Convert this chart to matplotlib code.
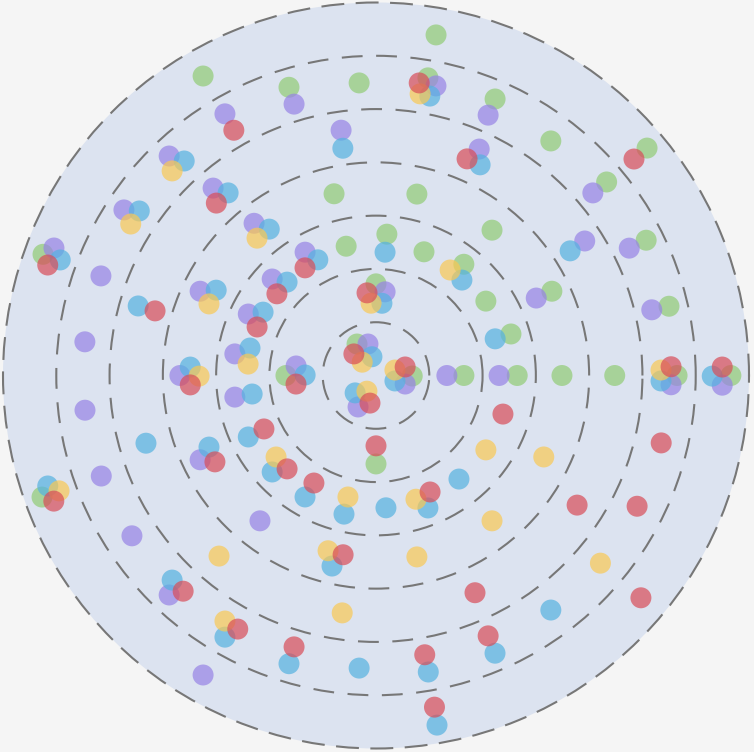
import numpy as np
import matplotlib
matplotlib.use("Agg")
import matplotlib.pyplot as plt

# ---- data: angle (degrees), radius (axis units 0..7) per series ----
green_angle = [80.0, 120.0, 106.8, 93.3, 80.1, 66.7, 53.3, 40.0, 40.0, 103.0, 77.3, 51.4,
               26.6, 103.0, 85.6, 68.8, 51.7, 34.1, 25.6, 13.3, 17.1, 90.0, 121.1, 359.2,
               180.0, 0.0, 0.0, 0.0, 0.0, 0.0, 0.0, 270.0, 160.0, 200.0]
green_radius = [6.49, 6.49, 5.65, 5.50, 5.67, 5.65, 5.49, 6.64, 5.65, 3.50, 3.49, 3.49,
                5.67, 2.49, 2.66, 2.49, 2.66, 2.49, 3.66, 5.65, 2.65, 1.72, 0.69, 0.68,
                1.69, 1.65, 2.65, 3.49, 4.48, 5.65, 6.66, 1.66, 6.65, 6.67]

purple_angle = [120.0, 133.3, 131.0, 146.7, 128.7, 158.4, 106.8, 98.1, 78.3, 66.7, 65.5, 40.1,
                32.8, 26.7, 119.9, 137.1, 154.4, 154.3, 171.3, 83.8, 104.3, 343.7, 240.3, 173.2,
                0.0, 0.0, 25.8, 13.4, 358.2, 358.4, 160.1, 173.4, 180.0, 186.8, 188.7, 205.6,
                200.1, 213.3, 231.4, 226.7, 240.0]
purple_radius = [5.67, 5.66, 4.66, 5.66, 3.66, 6.50, 5.32, 4.65, 5.55, 5.32, 4.67, 5.32,
                 4.66, 5.32, 2.67, 2.66, 3.66, 2.66, 2.68, 1.58, 0.61, 0.57, 0.68, 1.51,
                 1.33, 2.31, 3.34, 5.32, 5.54, 6.50, 5.49, 5.50, 3.68, 5.50, 2.68, 3.66,
                 5.49, 5.48, 3.49, 5.66, 6.49]

blue_angle = [131.8, 129.0, 145.2, 126.1, 159.9, 98.3, 79.1, 63.7, 32.7, 116.7, 85.8, 133.6,
              151.9, 150.7, 167.7, 85.3, 48.0, 17.1, 102.2, 343.9, 219.8, 179.6, 358.9, 359.9,
              163.7, 177.4, 188.5, 196.4, 205.7, 203.2, 222.9, 239.7, 257.0, 274.3, 291.4, 308.7,
              198.6, 225.1, 240.0, 257.0, 253.2, 266.7, 280.0, 293.2, 279.9, 306.7]
blue_radius = [5.40, 4.41, 5.41, 3.40, 6.31, 4.31, 5.34, 4.41, 4.33, 2.43, 2.32, 2.42,
               3.40, 2.43, 2.42, 1.36, 2.41, 2.34, 0.36, 0.37, 0.51, 1.33, 5.35, 6.31,
               4.65, 3.49, 2.35, 4.50, 2.66, 3.41, 2.66, 2.64, 2.67, 2.49, 2.67, 2.49,
               6.50, 5.42, 5.67, 3.67, 5.65, 5.50, 5.65, 5.67, 6.66, 5.49]

yellow_angle = [134.9, 148.3, 130.9, 81.1, 54.9, 156.8, 174.9, 93.9, 136.0, 16.1, 239.9, 180.2,
                1.1, 219.2, 257.0, 287.9, 325.9, 334.1, 308.6, 200.0, 229.0, 254.7, 282.7, 261.9,
                238.4, 320.1]
yellow_radius = [5.42, 5.41, 3.41, 5.35, 2.42, 3.41, 2.41, 1.36, 0.36, 0.37, 0.34, 3.32,
                 5.35, 2.42, 2.34, 2.44, 2.49, 3.50, 3.49, 6.33, 4.49, 3.41, 3.49, 4.50,
                 5.41, 5.49]

red_angle = [120.1, 132.8, 161.4, 81.6, 67.2, 40.0, 123.4, 140.5, 157.8, 163.7, 96.2, 135.7,
             16.3, 257.7, 186.1, 182.9, 1.7, 1.4, 343.1, 205.5, 208.2, 226.4, 270.0, 240.0,
             294.9, 201.3, 228.2, 241.4, 259.6, 294.5, 253.2, 279.9, 293.3, 280.0, 327.2, 333.4,
             320.0, 346.7]
red_radius = [5.32, 4.41, 6.50, 5.55, 4.41, 6.32, 2.42, 2.41, 2.41, 4.32, 1.56, 0.58,
              0.57, 0.53, 1.51, 3.49, 5.54, 6.50, 2.49, 2.33, 3.43, 2.42, 1.32, 2.33,
              2.41, 6.49, 5.43, 5.42, 3.42, 4.48, 5.32, 5.32, 5.32, 6.32, 4.49, 5.48,
              6.49, 5.50]

series = [
    ("green", green_angle, green_radius, "#91cc75"),
    ("purple", purple_angle, purple_radius, "#9783e5"),
    ("blue", blue_angle, blue_radius, "#55b2e0"),
    ("yellow", yellow_angle, yellow_radius, "#f9c853"),
    ("red", red_angle, red_radius, "#d84d58"),
]

W, H = 754, 752
fig = plt.figure(figsize=(W / 100, H / 100), dpi=100, facecolor="#f5f5f5")
cx, cy, R = 376, 376.5, 373
ax = fig.add_axes([(cx - R) / W, (cy - R) / H, 2 * R / W, 2 * R / H], projection="polar")
ax.set_facecolor("#dce3f0")

for name, ang, rad, col in series:
    ax.scatter(np.deg2rad(ang), rad, s=228, c=col, alpha=0.7, edgecolors="none",
               zorder=3, clip_on=False)

dash = (0, (10, 6.5))
ax.set_ylim(0, 7)
ax.set_yticks([1, 2, 3, 4, 5, 6])
ax.set_yticklabels([])
ax.set_xticks([])
ax.xaxis.grid(False)
ax.yaxis.grid(True, color="#777777", linewidth=1.5, linestyle=dash)
ax.spines["polar"].set_color("#777777")
ax.spines["polar"].set_linewidth(1.5)
ax.spines["polar"].set_linestyle(dash)
ax.set_axisbelow(True)

fig.savefig("out.png", dpi=100, facecolor=fig.get_facecolor())
